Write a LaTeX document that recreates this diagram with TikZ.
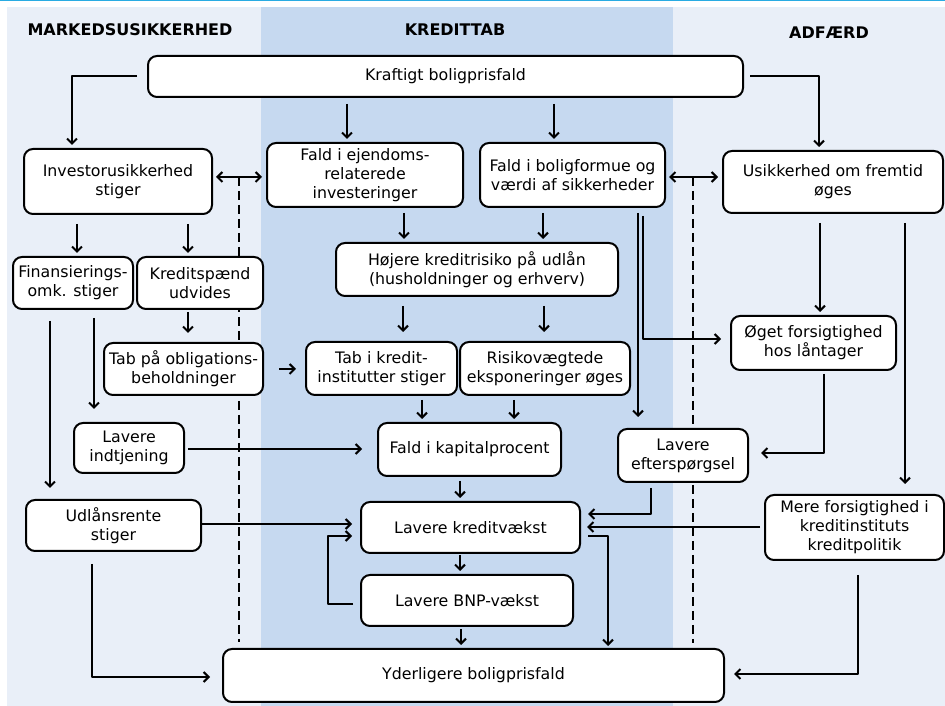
\documentclass[tikz,border=0pt]{standalone}
\usepackage{fontspec}
\setmainfont{DejaVu Sans}
\usetikzlibrary{arrows.meta}
\definecolor{panellight}{RGB}{233,239,248}
\definecolor{panelmid}{RGB}{198,217,240}
\definecolor{topline}{RGB}{41,171,226}
\tikzset{
  box/.style={draw, fill=white, rounded corners=9bp, line width=2bp,
    align=center, inner sep=1bp, font=\fontsize{15.8bp}{19bp}\selectfont},
  head/.style={font=\bfseries\fontsize{16bp}{18bp}\selectfont},
  conn/.style={->, shorten <=6bp, shorten >=3bp},
  dconn/.style={<->, shorten <=3bp, shorten >=4bp},
  divider/.style={dash pattern=on 9bp off 5bp},
}
\begin{document}
\begin{tikzpicture}[>={Straight Barb[length=5bp,width=10bp]},line join=bevel]
  \pgfsetlinewidth{2bp}
  \useasboundingbox (0bp,0bp) rectangle (945bp,706bp);
%%
  % Panels
  \fill [panellight] (7bp,0bp) rectangle (261bp,699bp);
  \fill [panelmid] (261bp,0bp) rectangle (672.5bp,699bp);
  \fill [panellight] (672.5bp,0bp) rectangle (945bp,699bp);
  \fill [topline] (0bp,704.5bp) rectangle (945bp,706bp);
  % Headers
  \node [head] (markeds) at (130bp,676bp) {MARKEDSUSIKKERHED};
  \node [head] (kredittab) at (455bp,676bp) {KREDITTAB};
  \node [head] (adfaerd) at (829bp,673bp) {ADFÆRD};
  % Dividers
  \coordinate (divLtop) at (239bp,529bp);
  \coordinate (divLbot) at (239bp,64bp);
  \coordinate (divRtop) at (693bp,529bp);
  \coordinate (divRbot) at (693bp,63bp);
  \draw [divider] (divLtop) -- (divLbot);
  \draw [divider] (divRtop) -- (divRbot);
%
  % Node: Kraftigt boligprisfald
  \node [box, minimum width=595bp, minimum height=41bp] (kraft) at (445.5bp,629.5bp) {Kraftigt boligprisfald};
  % Node: Investorusikkerhed stiger
  \node [box, minimum width=188bp, minimum height=65bp] (invest) at (118bp,524.5bp) {Investorusikkerhed\\stiger};
  % Node: Fald i ejendomsrelaterede investeringer
  \node [box, minimum width=196bp, minimum height=64bp] (ejend) at (365bp,531bp) {Fald i ejendoms-\\relaterede\\investeringer};
  % Node: Fald i boligformue
  \node [box, minimum width=185bp, minimum height=64bp] (boligf) at (572.5bp,531bp) {Fald i boligformue og\\værdi af sikkerheder};
  % Node: Usikkerhed om fremtid
  \node [box, minimum width=220bp, minimum height=62bp] (usikk) at (833bp,524bp) {Usikkerhed om fremtid\\øges};
  % Node: Finansieringsomk.
  \node [box, minimum width=120bp, minimum height=52bp] (finans) at (73bp,423bp) {Finansierings-\\omk. stiger};
  % Node: Kreditspaend
  \node [box, minimum width=126bp, minimum height=52bp] (kredsp) at (200bp,423bp) {Kreditspænd\\udvides};
  % Node: Hoejere kreditrisiko
  \node [box, minimum width=282bp, minimum height=53bp] (hojere) at (477bp,436.5bp) {Højere kreditrisiko på udlån\\(husholdninger og erhverv)};
  % Node: Tab paa obligationer
  \node [box, minimum width=159bp, minimum height=52bp] (tabobl) at (183.5bp,337bp) {Tab på obligations-\\beholdninger};
  % Node: Tab i kreditinstitutter
  \node [box, minimum width=151bp, minimum height=53bp] (tabkred) at (381.5bp,337.5bp) {Tab i kredit-\\institutter stiger};
  % Node: Risikovaegtede
  \node [box, minimum width=170bp, minimum height=53bp] (risiko) at (545bp,337.5bp) {Risikovægtede\\eksponeringer øges};
  % Node: Oeget forsigtighed
  \node [box, minimum width=165bp, minimum height=54bp] (oget) at (813.5bp,363bp) {Øget forsigtighed\\hos låntager};
  % Node: Lavere indtjening
  \node [box, minimum width=110bp, minimum height=50bp] (indtj) at (129bp,258bp) {Lavere\\indtjening};
  % Node: Fald i kapitalprocent
  \node [box, minimum width=183bp, minimum height=53bp] (kapital) at (469.5bp,256.5bp) {Fald i kapitalprocent};
  % Node: Lavere efterspoergsel
  \node [box, minimum width=130bp, minimum height=53bp] (efters) at (683bp,250.5bp) {Lavere\\efterspørgsel};
  % Node: Udlaansrente
  \node [box, minimum width=175bp, minimum height=51bp] (udlan) at (113.5bp,180.5bp) {Udlånsrente\\stiger};
  % Node: Mere forsigtighed
  \node [box, minimum width=179bp, minimum height=65bp] (mere) at (854.5bp,178.5bp) {Mere forsigtighed i\\kreditinstituts\\kreditpolitik};
  % Node: Lavere kreditvaekst
  \node [box, minimum width=219bp, minimum height=51bp] (kredv) at (470.5bp,178.5bp) {Lavere kreditvækst};
  % Node: Lavere BNP-vaekst
  \node [box, minimum width=212bp, minimum height=51bp] (bnp) at (467bp,105.5bp) {Lavere BNP-vækst};
  % Node: Yderligere boligprisfald
  \node [box, minimum width=501bp, minimum height=53bp] (yderl) at (473.5bp,30.5bp) {Yderligere boligprisfald};
%
  % Edge: kraft -> invest
  \draw [conn, shorten <=10bp] ([yshift=0.5bp]kraft.west) -| ([xshift=-46bp]invest.north);
  % Edge: kraft -> ejend
  \draw [conn] ([xshift=-18bp]ejend.north |- kraft.south) -- ([xshift=-18bp]ejend.north);
  % Edge: kraft -> boligf
  \draw [conn] ([xshift=-18.5bp]boligf.north |- kraft.south) -- ([xshift=-18.5bp]boligf.north);
  % Edge: kraft -> usikk
  \draw [conn] ([yshift=0.5bp]kraft.east) -| ([xshift=-14bp]usikk.north);
  % Edge: invest <-> ejend
  \draw [dconn] ([yshift=4.5bp]invest.east) -- ([yshift=4.5bp]invest.east -| ejend.west);
  % Edge: boligf <-> usikk
  \draw [dconn] ([yshift=5bp]usikk.west -| boligf.east) -- ([yshift=5bp]usikk.west);
  % Edge: invest -> finans
  \draw [conn, shorten <=9bp] ([xshift=4bp]finans.north |- invest.south) -- ([xshift=4bp]finans.north);
  % Edge: invest -> kredsp
  \draw [conn, shorten <=9bp] ([xshift=-12bp]kredsp.north |- invest.south) -- ([xshift=-12bp]kredsp.north);
  % Edge: kredsp -> tabobl
  \draw [conn, shorten <=2bp, shorten >=9bp] ([xshift=-12bp]kredsp.south) -- ([xshift=-12bp]kredsp.south |- tabobl.north);
  % Edge: finans -> udlan
  \draw [conn, shorten <=11bp, shorten >=11bp] ([xshift=-23bp]finans.south) -- ([xshift=-23bp]finans.south |- udlan.north);
  % Edge: finans -> indtj
  \draw [conn, shorten <=8bp, shorten >=13bp] ([xshift=21bp]finans.south) -- ([xshift=21bp]finans.south |- indtj.north);
  % Edge: tabobl -> tabkred
  \draw [conn, shorten <=15bp, shorten >=9bp] (tabobl.east) -- (tabobl.east -| tabkred.west);
  % Edge: ejend -> hojere
  \draw [conn, shorten <=5bp] ([xshift=39bp]ejend.south) -- ([xshift=39bp]ejend.south |- hojere.north);
  % Edge: boligf -> hojere
  \draw [conn, shorten <=5bp] ([xshift=-29.5bp]boligf.south) -- ([xshift=-29.5bp]boligf.south |- hojere.north);
  % Edge: boligf -> efters
  \draw [conn, shorten <=5bp, shorten >=11bp] ([xshift=65.5bp]boligf.south) -- ([xshift=65.5bp]boligf.south |- efters.north);
  % Edge: boligf -> oget
  \draw [conn, shorten <=8bp, shorten >=9bp] ([xshift=70.5bp]boligf.south) |- ([yshift=4bp]oget.west);
  % Edge: usikk -> oget
  \draw [conn, shorten <=9bp] ([xshift=-13bp]usikk.south) -- ([xshift=-13bp]usikk.south |- oget.north);
  % Edge: usikk -> mere
  \draw [conn, shorten <=9bp, shorten >=10bp] ([xshift=72bp]usikk.south) -- ([xshift=72bp]usikk.south |- mere.north);
  % Edge: hojere -> tabkred
  \draw [conn, shorten <=9bp, shorten >=9bp] ([xshift=-74bp]hojere.south) -- ([xshift=-74bp]hojere.south |- tabkred.north);
  % Edge: hojere -> risiko
  \draw [conn, shorten <=9bp, shorten >=9bp] ([xshift=67bp]hojere.south) -- ([xshift=67bp]hojere.south |- risiko.north);
  % Edge: tabkred -> kapital
  \draw [conn, shorten <=4bp] ([xshift=40.5bp]tabkred.south) -- ([xshift=40.5bp]tabkred.south |- kapital.north);
  % Edge: risiko -> kapital
  \draw [conn, shorten <=4bp] ([xshift=-31bp]risiko.south) -- ([xshift=-31bp]risiko.south |- kapital.north);
  % Edge: oget -> efters
  \draw [conn, shorten <=3bp, shorten >=12bp] ([xshift=10.5bp]oget.south) |- ([yshift=2.5bp]efters.east);
  % Edge: indtj -> kapital
  \draw [conn, shorten <=3bp, shorten >=15bp] ([yshift=-1bp]indtj.east) -- ([yshift=-1bp]indtj.east -| kapital.west);
  % Edge: kapital -> kredv
  \draw [conn, shorten <=4bp] ([xshift=-9.5bp]kapital.south) -- ([xshift=-9.5bp]kapital.south |- kredv.north);
  % Edge: efters -> kredv
  \draw [conn, shorten <=5bp, shorten >=7bp] ([xshift=-32bp]efters.south) |- ([yshift=13.5bp]kredv.east);
  % Edge: mere -> kredv
  \draw [conn, shorten <=4bp, shorten >=6bp] ([yshift=0.5bp]mere.west) -- ([yshift=0.5bp]mere.west -| kredv.east);
  % Edge: udlan -> kredv
  \draw [conn, shorten <=0bp, shorten >=8bp] ([yshift=1.5bp]udlan.east) -- ([yshift=1.5bp]udlan.east -| kredv.west);
  % Edge: bnp -> kredv
  \draw [conn, shorten <=7bp, shorten >=8bp] ([yshift=-3.5bp]bnp.west) -- ++(-32bp,0bp) |- ([yshift=-8.5bp]kredv.west);
  % Edge: kredv -> bnp
  \draw [conn, shorten <=1bp] ([xshift=-10.5bp]kredv.south) -- ([xshift=-10.5bp]kredv.south |- bnp.north);
  % Edge: kredv -> yderl
  \draw [conn, shorten <=7bp, shorten >=2bp] ([yshift=-8.5bp]kredv.east) -| ([xshift=134.5bp]yderl.north);
  % Edge: bnp -> yderl
  \draw [conn, shorten <=2bp] ([xshift=-6bp]bnp.south) -- ([xshift=-6bp]bnp.south |- yderl.north);
  % Edge: udlan -> yderl
  \draw [conn, shorten <=12bp, shorten >=12bp] ([xshift=-21.5bp]udlan.south) |- ([yshift=-1.5bp]yderl.west);
  % Edge: mere -> yderl
  \draw [conn, shorten <=14bp, shorten >=9bp] ([xshift=3.5bp]mere.south) |- ([yshift=1.5bp]yderl.east);
%
\end{tikzpicture}
\end{document}
